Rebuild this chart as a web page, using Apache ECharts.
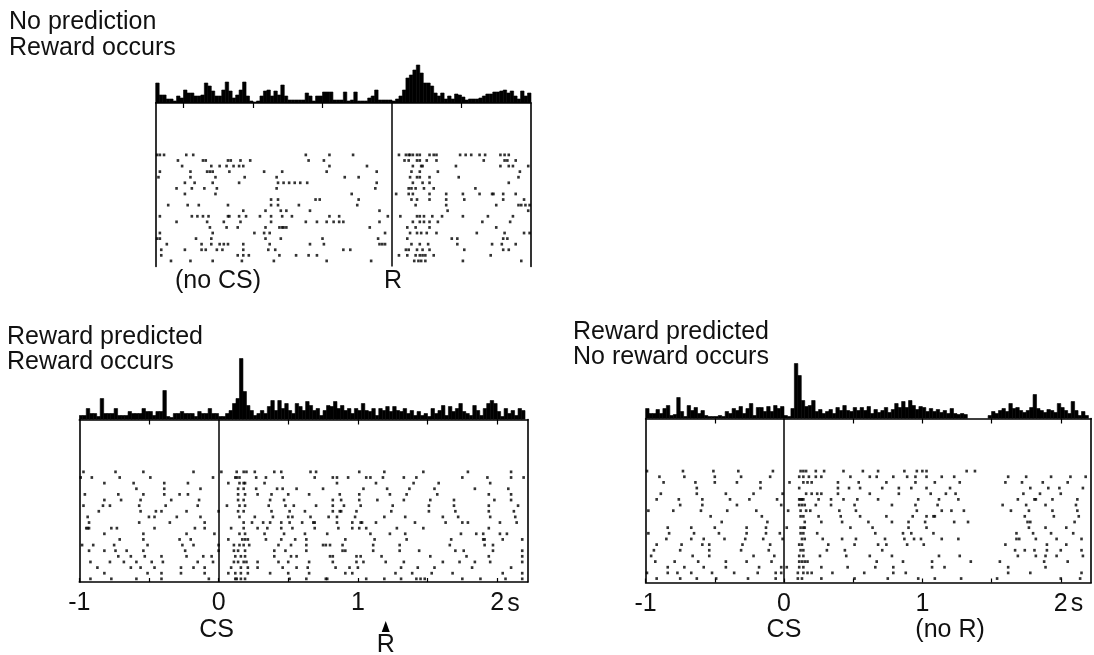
<!DOCTYPE html>
<html>
<head>
<meta charset="utf-8">
<title>Reward prediction error</title>
<script src="https://cdn.jsdelivr.net/npm/echarts@6/dist/echarts.min.js"></script>
<style>
html, body { margin: 0; padding: 0; background: #fff; }
#main { width: 1094px; height: 655px; }
</style>
</head>
<body>
<div id="main"></div>
<script>
// histogram bin width (s)
var binW = 0.025;

// top panel, time relative to reward (R), bins from -1.7 s
var histTop = [20,8,8,4,4,2,7,5,13,10,10,7,7,8,20,17,12,7,7,13,21,12,5,8,13,21,7,2,1,2,
  7,12,13,7,12,8,18,7,3,3,3,3,3,10,7,2,7,7,11,11,11,3,3,3,11,2,3,11,2,2,
  2,5,7,13,3,3,3,3,2,4,7,13,25,28,33,38,30,20,20,17,10,7,10,4,7,4,9,8,6,3,
  4,4,4,5,7,9,9,11,11,12,13,10,12,7,4,12,7,10];

// bottom left, relative to CS, bins from -1 s
var histLeft = [4,4,11,6,6,3,21,6,6,6,11,4,4,4,8,6,6,6,11,8,8,4,8,8,29,3,2,6,6,8,
  6,6,6,3,8,6,6,11,6,6,3,3,6,9,16,21,61,28,14,9,4,6,9,6,13,19,9,19,11,16,
  9,6,16,13,9,18,14,9,11,4,9,14,13,18,11,14,9,11,6,11,9,16,9,8,11,4,11,9,13,8,
  13,9,8,11,6,9,4,8,4,6,3,11,6,9,14,4,13,8,11,16,8,6,4,14,9,4,11,16,19,16,
  8,3,11,6,9,4,11,9];

// bottom right, relative to CS, bins from -1 s
var histRight = [10,5,5,9,5,10,13,3,4,21,7,2,13,8,11,5,8,3,2,2,2,3,2,7,5,10,8,12,5,10,
  15,3,11,11,7,12,7,13,10,12,3,2,10,55,43,18,12,13,18,7,9,5,7,9,5,11,8,13,8,7,
  11,8,11,8,12,5,9,6,8,11,6,9,15,11,17,11,18,13,9,12,11,7,10,7,9,6,8,5,10,5,
  4,5,4,0,0,0,0,0,0,3,7,5,8,10,7,15,10,11,8,6,8,11,24,10,8,6,9,8,6,15,
  11,8,5,17,8,3,7,3];

// raster rows (spike times, s), first trial on top
var rasterTop = [
  [-1.69,-1.67,-1.64,-1.48,-1.43,-0.62,-0.45,-0.28,0.05,0.10,0.12,0.13,0.15,0.18,0.20,0.27,0.30,0.32,0.49,0.53,0.57,0.63,0.67,0.78,0.81,0.84],
  [-1.54,-1.36,-1.34,-1.18,-1.16,-1.09,-1.02,-0.60,-0.49,0.09,0.12,0.18,0.20,0.25,0.32,0.66,0.81,0.83,0.89],
  [-1.51,-1.30,-1.24,-1.19,-1.14,-1.10,-1.07,-0.45,-0.18,0.15,0.21,0.22,0.46,0.78,0.84,0.87,0.98],
  [-1.67,-1.45,-1.33,-1.31,-1.29,-1.17,-0.92,-0.79,-0.47,-0.11,0.14,0.20,0.33,0.92],
  [-1.68,-1.45,-1.27,-1.06,-0.83,-0.34,-0.24,0.13,0.18,0.20,0.27,0.48,0.91],
  [-1.49,-1.42,-1.29,-1.10,-0.82,-0.78,-0.74,-0.70,-0.66,-0.61,-0.11,0.15,0.22,0.27,0.84],
  [-1.55,-1.44,-1.35,-1.26,-0.83,-0.12,0.12,0.14,0.17,0.23,0.30,0.60],
  [-1.49,-1.27,-0.29,0.03,0.12,0.15,0.27,0.39,0.51,0.63,0.72,0.73,0.80,0.89],
  [-0.87,-0.82,-0.55,-0.52,-0.24,0.14,0.18,0.27,0.39,0.52,0.80,0.95],
  [-1.61,-1.47,-1.39,-1.18,-0.87,-0.82,-0.67,-0.25,0.17,0.39,0.75,0.91,0.93,0.96,0.99],
  [-1.07,-0.91,-0.80,-0.76,-0.59,-0.09,0.40,0.98],
  [-1.67,-1.44,-1.40,-1.36,-1.32,-1.18,-1.17,-1.10,-1.05,-0.95,-0.87,-0.79,-0.72,-0.45,-0.38,-0.03,0.06,0.18,0.20,0.23,0.29,0.36,0.51,0.69,0.87],
  [-1.55,-1.33,-1.21,-1.09,-0.87,-0.62,-0.54,-0.47,-0.42,-0.38,-0.35,-0.09,0.15,0.20,0.23,0.27,0.33,0.65,0.85],
  [-1.31,-1.19,-1.11,-0.91,-0.81,-0.79,-0.78,-0.76,-0.16,0.11,0.17,0.27,0.75],
  [-1.67,-1.29,-0.99,-0.92,-0.88,-0.05,0.13,0.18,0.21,0.25,0.32,0.61,0.81,0.95,0.99],
  [-1.69,-1.67,-1.41,-1.30,-0.91,-0.80,-0.50,-0.10,0.11,0.43,0.47,0.80,0.83],
  [-1.62,-1.37,-1.30,-1.24,-1.21,-1.18,-1.07,-0.88,-0.59,-0.49,-0.09,-0.07,-0.05,0.14,0.20,0.26,0.47,0.72,0.79,0.89],
  [-1.66,-1.49,-1.37,-1.34,-1.26,-1.22,-1.07,-0.89,-0.84,-0.35,-0.30,0.10,0.12,0.18,0.22,0.27,0.52,0.80,0.84],
  [-1.66,-1.11,-1.07,-1.03,-0.81,-0.69,-0.60,-0.54,0.05,0.11,0.17,0.20,0.22,0.24,0.30,0.71],
  [-1.59,-1.45,-1.29,-1.08,-0.85,-0.47,-0.15,0.16,0.19,0.21,0.24,0.51,0.93]
];

var rasterLeft = [
  [-0.97,-0.74,-0.54,-0.18,0.02,0.13,0.18,0.20,0.26,0.40,0.45,0.66,0.70,1.01,1.19,1.47,1.79,2.10],
  [-0.99,-0.91,-0.71,-0.49,-0.04,0.12,0.13,0.15,0.27,0.34,0.46,0.69,0.82,0.85,0.93,1.06,1.09,1.18,1.33,1.42,1.75,1.93,2.10,2.19],
  [-0.82,-0.61,-0.39,-0.22,0.07,0.15,0.18,0.19,0.33,0.85,1.13,1.40,1.58,1.95],
  [-0.59,-0.39,-0.13,0.14,0.18,0.27,0.42,0.46,0.56,0.75,1.04,1.21,1.37,1.55,1.84,2.08],
  [-0.96,-0.72,-0.54,-0.39,-0.28,-0.22,0.14,0.19,0.28,0.38,0.50,0.65,0.87,1.01,1.23,1.35,1.57,1.94,2.10],
  [-0.82,-0.70,-0.56,-0.34,-0.14,0.14,0.18,0.37,0.47,0.82,0.88,1.01,1.14,1.33,1.52,1.69,1.98,2.10],
  [-0.97,-0.83,-0.78,-0.57,-0.38,-0.15,0.06,0.15,0.19,0.36,0.48,0.54,0.70,0.82,0.90,1.02,1.25,1.51,1.69,1.94,2.15],
  [-0.86,-0.56,-0.45,-0.41,-0.23,0.00,0.14,0.18,0.38,0.51,0.62,0.82,0.87,0.88,0.99,1.24,1.51,1.70,1.94,2.12],
  [-0.94,-0.50,-0.46,-0.30,-0.13,0.15,0.26,0.39,0.50,0.53,0.66,0.79,0.85,0.98,1.19,1.34,1.61,1.72,1.95,2.13],
  [-0.93,-0.57,-0.35,-0.10,0.18,0.24,0.32,0.37,0.45,0.51,0.60,0.68,0.69,0.85,0.96,1.02,1.03,1.13,1.41,1.63,1.75,1.79,2.02,2.14],
  [-0.95,-0.94,-0.93,-0.77,-0.73,-0.46,-0.17,-0.10,0.09,0.18,0.28,0.35,0.45,0.53,0.69,0.86,0.96,1.01,1.06,1.28,1.47,1.94],
  [-0.82,-0.54,-0.23,-0.03,0.15,0.19,0.33,0.47,0.62,0.78,1.09,1.23,1.34,1.74,1.85,1.90,2.02,2.07],
  [-0.71,-0.54,-0.28,-0.20,0.07,0.17,0.19,0.21,0.34,0.45,0.55,0.63,0.91,1.12,1.35,1.67,1.90,1.91,2.04,2.18],
  [-0.98,-0.90,-0.75,-0.51,-0.26,-0.18,0.00,0.11,0.15,0.18,0.22,0.43,0.52,0.63,0.75,0.77,0.80,0.89,1.11,1.30,1.66,1.91,1.97],
  [-0.93,-0.82,-0.74,-0.66,-0.54,-0.24,0.00,0.11,0.14,0.19,0.40,0.48,0.63,0.89,0.91,1.11,1.30,1.44,1.70,1.76,1.97,2.18],
  [-0.72,-0.63,-0.53,-0.41,-0.23,-0.11,-0.05,0.12,0.16,0.19,0.40,0.52,0.56,0.80,0.82,0.99,1.02,1.17,1.52,1.78,1.94,2.18],
  [-0.92,-0.78,-0.68,-0.59,-0.48,-0.40,-0.15,-0.04,0.11,0.14,0.18,0.20,0.28,0.43,0.50,0.65,0.82,0.99,1.04,1.20,1.33,1.61,1.73,1.84,1.95,2.18],
  [-0.87,-0.63,-0.56,-0.46,-0.27,-0.18,-0.10,0.09,0.16,0.21,0.28,0.46,0.56,0.64,0.84,0.94,1.00,1.31,1.43,1.55,1.82,2.10],
  [-0.82,-0.51,-0.41,-0.27,-0.10,0.07,0.12,0.16,0.21,0.37,0.50,0.65,0.91,0.96,1.27,1.39,1.53,1.68,2.04,2.18],
  [-0.92,-0.77,-0.59,-0.41,-0.07,0.12,0.13,0.16,0.19,0.51,0.63,0.77,0.78,1.06,1.19,1.31,1.42,1.45,1.48,1.75,1.88,2.06,2.18]
];

var rasterRight = [
  [-0.99,-0.73,-0.51,-0.33,-0.08,0.12,0.14,0.16,0.23,0.29,0.43,0.57,0.68,0.87,0.96,1.00,1.03,1.32,1.38],
  [-0.90,-0.72,-0.50,-0.31,-0.10,0.11,0.14,0.18,0.23,0.27,0.48,0.62,0.67,0.79,0.89,0.95,1.03,1.14,1.23,1.62,1.75,1.93,2.07,2.18],
  [-0.87,-0.64,-0.50,-0.34,-0.17,0.04,0.14,0.17,0.20,0.39,0.54,0.74,0.95,1.09,1.27,1.60,1.72,1.87,2.05],
  [-0.63,-0.17,0.11,0.39,0.47,0.55,0.71,0.83,0.92,1.03,1.20,1.78,1.91,1.99,2.16],
  [-0.89,-0.63,-0.42,-0.22,-0.01,0.16,0.20,0.24,0.27,0.39,0.62,0.83,1.06,1.17,1.24,1.73,1.85,2.00],
  [-0.92,-0.76,-0.59,-0.39,-0.25,-0.05,0.11,0.12,0.13,0.14,0.25,0.34,0.43,0.53,0.68,0.97,1.12,1.26,1.69,1.81,1.82,1.94,2.12],
  [-0.75,-0.59,-0.34,-0.02,0.11,0.13,0.15,0.23,0.34,0.51,0.78,0.95,1.11,1.58,1.75,1.89,2.11],
  [-0.98,-0.80,-0.60,-0.41,-0.20,0.03,0.12,0.16,0.19,0.40,0.52,0.96,1.14,1.21,1.30,1.64,1.77,1.94,2.12],
  [-0.53,-0.16,0.12,0.14,0.25,0.41,0.55,0.74,0.93,1.03,1.08,1.09,1.74,1.95,2.13],
  [-0.45,-0.12,0.15,0.27,0.42,0.61,0.78,0.90,1.02,1.23,1.33,1.76,1.78,2.10],
  [-0.84,-0.67,-0.50,-0.27,-0.13,0.02,0.12,0.14,0.15,0.48,0.64,0.90,1.03,1.77,1.89,2.04],
  [-0.98,-0.83,-0.65,-0.47,-0.27,-0.13,-0.03,0.12,0.14,0.24,0.66,0.86,0.92,1.08,1.68,1.80,1.93,2.09],
  [-0.85,-0.67,-0.58,-0.43,-0.28,-0.15,-0.01,0.13,0.15,0.28,0.42,0.52,0.73,0.87,0.94,0.99,1.14,1.26,1.68,1.70,1.82,1.97,2.15],
  [-0.92,-0.74,-0.59,-0.54,-0.30,-0.10,0.11,0.13,0.32,0.51,0.68,0.74,0.89,1.01,1.60,1.90,2.04],
  [-0.94,-0.75,-0.54,-0.31,-0.11,0.12,0.14,0.31,0.44,0.71,1.67,1.74,1.81,1.90,2.00,2.15],
  [-0.96,-0.66,-0.54,-0.22,-0.07,0.11,0.14,0.26,0.45,0.62,0.78,1.12,1.27,1.69,1.82,1.89,1.97,2.16],
  [-0.93,-0.79,-0.62,-0.42,-0.27,-0.09,0.11,0.13,0.15,0.17,0.67,0.86,1.07,1.35,1.56,1.88,2.05],
  [-0.84,-0.72,-0.58,-0.42,-0.18,-0.02,0.02,0.11,0.14,0.27,0.46,0.66,0.79,1.07,1.16,1.62,1.89],
  [-0.99,-0.84,-0.77,-0.67,-0.52,-0.36,-0.19,-0.06,-0.02,0.10,0.14,0.17,0.20,0.35,0.58,0.79,0.88,1.62,1.78,2.15],
  [-0.92,-0.75,-0.63,-0.49,-0.26,-0.06,0.10,0.13,0.27,0.51,0.75,0.97,1.09,1.28,1.54,2.00,2.14]
];

var rewardTime = 1.2;   // reward delivery after CS (s)

var FAMILY = '"Liberation Sans", Arial, Helvetica, sans-serif';
var FONT = '25px ' + FAMILY;
var INK = '#111';

function histData(start, heights) {
  return heights.map(function (h, i) { return [start + i * binW, h]; });
}
function rasterData(rows) {
  var out = [];
  rows.forEach(function (row, r) {
    row.forEach(function (t) { out.push([t, r + 1]); });
  });
  return out;
}
function renderBin(params, api) {
  var t0 = api.value(0), h = api.value(1);
  if (!h) return;
  var a = api.coord([t0, 0]);
  var b = api.coord([t0 + binW, h]);
  return {
    type: 'rect',
    shape: { x: a[0], y: b[1], width: b[0] - a[0], height: a[1] - b[1] },
    style: { fill: '#000', stroke: '#000', lineWidth: 0.6 }
  };
}

var line = { color: '#000', width: 1.6 };

function histX(grid, min, max, ticks) {
  return {
    gridIndex: grid, type: 'value', min: min, max: max,
    axisLine: { show: true, onZero: false, lineStyle: line },
    axisTick: { show: true, inside: false, length: 5, customValues: ticks, lineStyle: { color: '#000', width: 1.2 } },
    axisLabel: { show: false },
    splitLine: { show: false }
  };
}
function rasterX(grid, min, max) {
  return {
    gridIndex: grid, type: 'value', min: min, max: max,
    axisLine: { show: true, onZero: false, lineStyle: line },
    axisTick: { show: true, inside: true, length: 4, customValues: [-1, -0.5, 0, 0.5, 1, 1.5, 2], lineStyle: { color: '#000', width: 1.2 } },
    axisLabel: { show: true, customValues: [-1, 0, 1, 2], margin: 9, color: INK, fontSize: 25, fontFamily: FAMILY },
    splitLine: { show: false }
  };
}
function histY(grid, max) {
  return { gridIndex: grid, type: 'value', min: 0, max: max, show: false };
}
function rasterY(grid, max, pos) {
  return {
    gridIndex: grid, type: 'value', min: -8.3, max: max, inverse: true, position: pos,
    axisLine: { show: true, onZero: false, lineStyle: line },
    axisTick: { show: false }, axisLabel: { show: false }, splitLine: { show: false }
  };
}
function eventLine() {
  return {
    silent: true, symbol: ['none', 'none'], animation: false,
    label: { show: false },
    lineStyle: { color: '#000', width: 1.5, type: 'solid' },
    data: [{ xAxis: 0 }]
  };
}
function histSeries(x, y, data) {
  return {
    type: 'custom', xAxisIndex: x, yAxisIndex: y, clip: true,
    renderItem: renderBin, encode: { x: 0, y: 1 }, data: data
  };
}
function rasterSeries(x, y, data) {
  return {
    type: 'scatter', xAxisIndex: x, yAxisIndex: y,
    symbol: 'rect', symbolSize: [2.6, 2.8],
    itemStyle: { color: '#000' },
    data: data, markLine: eventLine()
  };
}

var chart = echarts.init(document.getElementById('main'));

var option = {
  animation: false,
  backgroundColor: '#fff',
  grid: [
    { left: 155.7, top: 63, width: 375.3, height: 40 },
    { left: 155.7, top: 103, width: 375.3, height: 163.5 },
    { left: 79.3, top: 354.5, width: 448.5, height: 65 },
    { left: 79.3, top: 419.5, width: 448.5, height: 162.5 },
    { left: 645.6, top: 358.5, width: 445.6, height: 60 },
    { left: 645.6, top: 418.5, width: 445.6, height: 164 }
  ],
  xAxis: [
    histX(0, -1.7, 1.0, [-1.5, -1, -0.5, 0.5]),
    { gridIndex: 1, type: 'value', min: -1.7, max: 1.0, show: false },
    histX(2, -1, 2.22, [-0.5, 0.5, 1, 1.5, 2]),
    rasterX(3, -1, 2.22),
    histX(4, -1, 2.22, [-0.5, 0.5, 1, 1.5, 2]),
    rasterX(5, -1, 2.22)
  ],
  yAxis: [
    histY(0, 40),
    rasterY(1, 21, 'left'),
    rasterY(1, 21, 'right'),
    histY(2, 65),
    rasterY(3, 20.56, 'left'),
    rasterY(3, 20.56, 'right'),
    histY(4, 60),
    rasterY(5, 20.7, 'left'),
    rasterY(5, 20.7, 'right')
  ],
  series: [
    histSeries(0, 0, histData(-1.7, histTop)),
    rasterSeries(1, 1, rasterData(rasterTop)),
    histSeries(2, 3, histData(-1, histLeft)),
    rasterSeries(3, 4, rasterData(rasterLeft)),
    histSeries(4, 6, histData(-1, histRight)),
    rasterSeries(5, 7, rasterData(rasterRight))
  ]
};
chart.setOption(option);

// text annotations placed on the axes' own pixel positions
function px(axis, v) { return chart.convertToPixel({ xAxisIndex: axis }, v); }
function txt(s, x, y, align) {
  return { type: 'text', x: x, y: y, silent: true,
    style: { text: s, font: FONT, fill: INK, align: align || 'left', verticalAlign: 'middle' } };
}
var rL = px(3, rewardTime), rR = px(5, rewardTime);
chart.setOption({
  graphic: [
    txt('No prediction', 9, 22),
    txt('Reward occurs', 9, 48),
    txt('(no CS)', 218, 281, 'center'),
    txt('R', px(1, 0) + 1, 281, 'center'),
    txt('Reward predicted', 7, 337),
    txt('Reward occurs', 7, 362),
    txt('Reward predicted', 573, 332),
    txt('No reward occurs', 573, 357),
    txt('CS', px(3, 0) - 2, 630, 'center'),
    txt('CS', px(5, 0), 630, 'center'),
    txt('s', px(3, 2) + 10, 604),
    txt('s', px(5, 2) + 10, 604),
    { type: 'polygon', silent: true, shape: { points: [[rL, 621], [rL - 4, 632], [rL + 4, 632]] }, style: { fill: '#000' } },
    txt('R', rL, 645, 'center'),
    txt('(no R)', rR, 630, 'center')
  ]
});
</script>
</body>
</html>
